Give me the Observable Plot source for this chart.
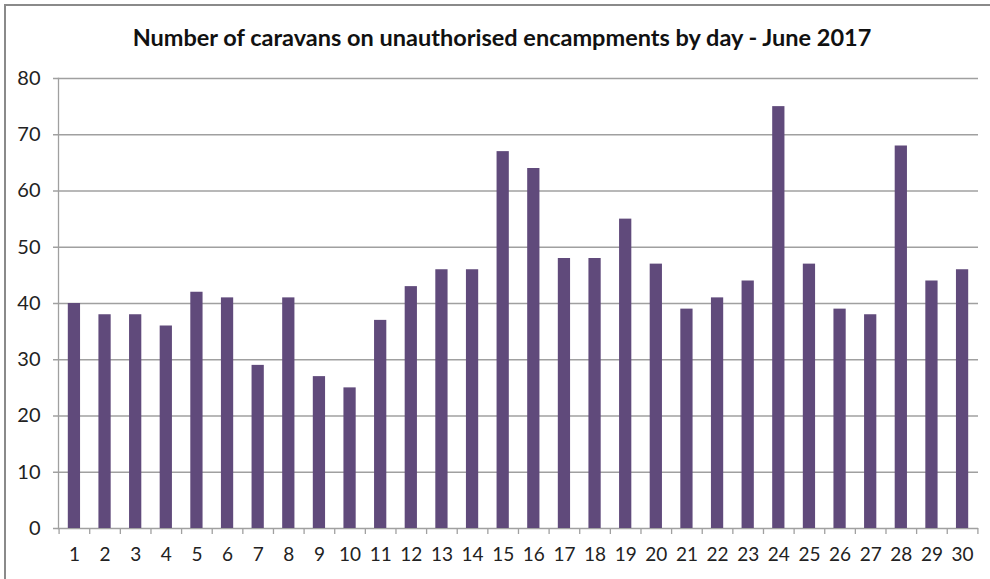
<!DOCTYPE html>
<html>
<head>
<meta charset="utf-8">
<script src="https://cdn.jsdelivr.net/npm/d3@7"></script>
<script src="https://cdn.jsdelivr.net/npm/@observablehq/plot@0.6"></script>
<style>
  html, body { margin: 0; padding: 0; background: #fff; overflow: hidden; }
  #wrap { position: relative; width: 990px; height: 579px; }
  #frame { position: absolute; left: 4px; top: 4px; width: 1000px; height: 600px; border: 2px solid #8a8a8a; box-sizing: border-box; }
  #title { position: absolute; left: 0; top: 23px; width: 1004px; text-align: center; font-family: Lato, "Open Sans", sans-serif; font-weight: bold; font-size: 23.5px; color: #111; }
  #chart { position: absolute; left: 0; top: 0; }
</style>
</head>
<body>
<div id="wrap">
  <div id="frame"></div>
  <div id="title">Number of caravans on unauthorised encampments by day - June 2017</div>
  <div id="chart"></div>
</div>
<script>
const days = d3.range(1, 31);
const caravans = [40, 38, 38, 36, 42, 41, 29, 41, 27, 25, 37, 43, 46, 46, 67, 64, 48, 48, 55, 47, 39, 41, 44, 75, 47, 39, 38, 68, 44, 46];
const yTicks = [0, 10, 20, 30, 40, 50, 60, 70, 80];

const data = days.map((d, i) => ({day: d, value: caravans[i]}));
const step = 920 / 30;

const chart = Plot.plot({
  width: 990,
  height: 579,
  marginTop: 78,
  marginBottom: 51,
  marginLeft: 58,
  marginRight: 12,
  style: {fontFamily: "Lato, 'Open Sans', sans-serif", fontSize: "16px", color: "#222", background: "transparent"},
  x: {type: "band", domain: days, paddingInner: 0.6, paddingOuter: 0.32, round: false},
  y: {domain: [0, 80]},
  marks: [
    Plot.gridY(yTicks, {stroke: "#a0a0a0", strokeOpacity: 1, strokeWidth: 1.3, insetLeft: -5}),
    Plot.axisY(yTicks, {tickSize: 0, tickPadding: 18, label: null, fontSize: 20}),
    Plot.frame({anchor: "left", stroke: "#a0a0a0", strokeWidth: 1.3}),
    Plot.ruleX(days, {x: d => d, dx: -step / 2, insetTop: 450, insetBottom: -6, stroke: "#a0a0a0", strokeWidth: 1.3}),
    Plot.ruleX([30], {x: d => d, dx: step / 2, insetTop: 450, insetBottom: -6, stroke: "#a0a0a0", strokeWidth: 1.3}),
    Plot.barY(data, {x: "day", y: "value", fill: "#604a7b"}),
    Plot.axisX(days, {tickSize: 0, tickPadding: 19, label: null, fontSize: 19})
  ]
});
document.getElementById("chart").appendChild(chart);
</script>
</body>
</html>
